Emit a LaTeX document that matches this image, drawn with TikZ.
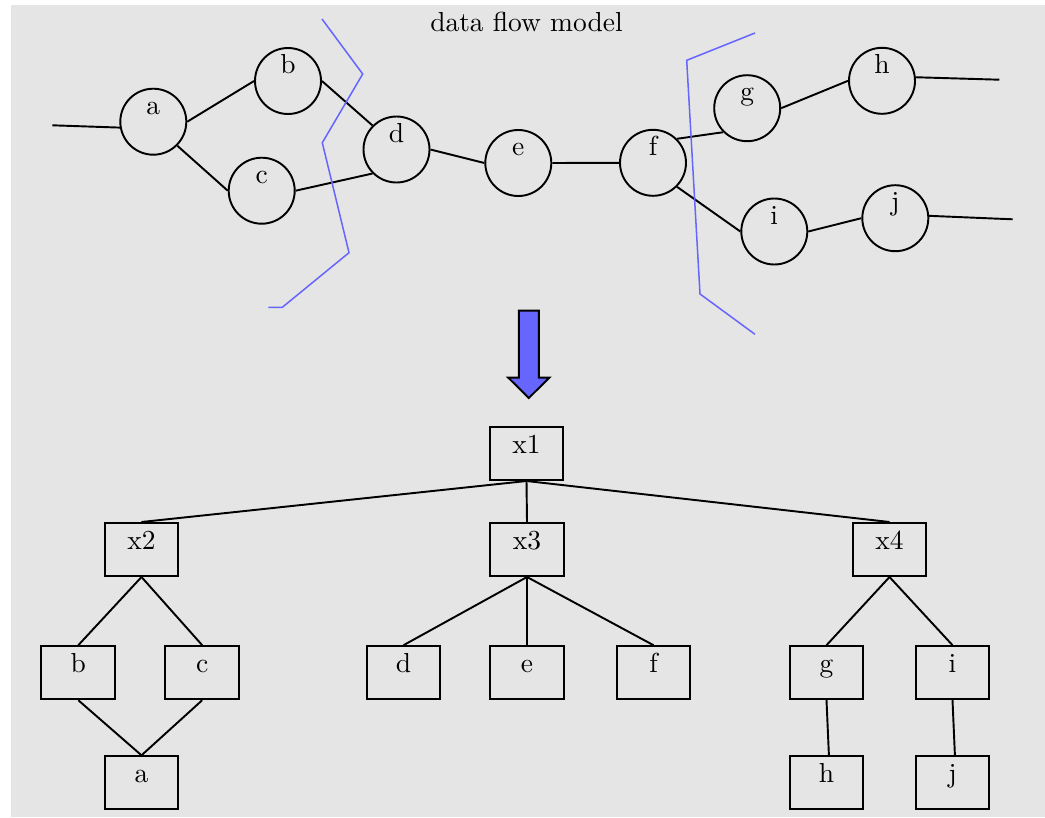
\documentclass[tikz,border=0pt]{standalone}
\usetikzlibrary{positioning}
\begin{document}
\begin{tikzpicture}[x=0.36364pt,y=-0.36364pt,
  every path/.style={line width=0.7pt},
  proc/.style={circle,draw,inner sep=0pt,minimum size=24pt,
    text height=4pt,text depth=9.45pt},
  blk/.style={rectangle,draw,inner sep=0pt,minimum width=26.8pt,minimum height=19.3pt,
    text height=5pt,text depth=5pt},
  cut/.style={draw=blue!60,line width=0.55pt},
  link/.style={draw=black,line width=0.7pt}]
% canvas
\useasboundingbox (0,0) rectangle (1045,817);
\fill[black!10] (11,5) rectangle (1045,817);

\node[anchor=base] (title) at (526.5,31.5) {data flow model};

% data flow graph
\node[proc] (a) at (153.3,121.7) {a};
\node[proc] (b) at (288,81) {b};
\node[proc] (c) at (261.7,190.7) {c};
\node[proc] (d) at (396.5,149.5) {d};
\node[proc] (e) at (518.3,163) {e};
\node[proc] (f) at (653,162.8) {f};
\node[proc] (g) at (747.2,108.2) {g};
\node[proc] (h) at (882,80.8) {h};
\node[proc] (i) at (774.3,231.5) {i};
\node[proc] (j) at (895.3,218.2) {j};
\coordinate (src) at (52.3,125.3);
\coordinate (snkh) at (999.3,79.7);
\coordinate (snkj) at (1012.7,219.3);

\draw[link] (src) -- (a.190);
\draw[link] (a.east) -- (b.west);
\draw[link] (a.south east) -- (c.west);
\draw[link] (b.east) -- (d.north west);
\draw[link] (c.east) -- (d.south west);
\draw[link] (d.east) -- (e.west);
\draw[link] (e.east) -- (f.west);
\draw[link] (f.north east) -- (g.south west);
\draw[link] (g.east) -- (h.west);
\draw[link] (f.south east) -- (i.west);
\draw[link] (i.east) -- (j.west);
\draw[link] (h.6) -- (snkh);
\draw[link] (j.4) -- (snkj);

% partition cuts
\draw[cut] (322,19) -- (362.7,74) -- (322.3,142.7) -- (349,252.7) -- (282.3,307.3) -- (268.3,307.3);
\draw[cut] (755,33) -- (686.7,60.3) -- (700,294) -- (755,334.3);

% transformation arrow
\filldraw[fill=blue!60,draw=black] (518.8,310.7) -- (538.8,310.7) -- (538.8,377.7) -- (549.3,377.7)
  -- (528.8,398) -- (508.3,377.7) -- (518.8,377.7) -- cycle;

% hierarchy
\node[blk] (x1) at (526.5,453.5) {x1};
\node[blk] (x2) at (141.5,549.5) {x2};
\node[blk] (x3) at (527,549.5) {x3};
\node[blk] (x4) at (889.5,549.5) {x4};
\node[blk] (tb) at (78.3,672.7) {b};
\node[blk] (tc) at (202.2,672.7) {c};
\node[blk] (ta) at (141.5,782.8) {a};
\node[blk] (td) at (403.5,672.7) {d};
\node[blk] (te) at (527,672.7) {e};
\node[blk] (tf) at (653.5,672.7) {f};
\node[blk] (tg) at (826.5,672.7) {g};
\node[blk] (ti) at (952.5,672.7) {i};
\node[blk] (th) at (826.5,782.8) {h};
\node[blk] (tj) at (952.5,782.8) {j};

\draw[link] (x1.south) -- (x2.north);
\draw[link] (x1.south) -- (x3.north);
\draw[link] (x1.south) -- (x4.north);
\draw[link] (x2.south) -- (tb.north);
\draw[link] (x2.south) -- (tc.north);
\draw[link] (tb.south) -- (ta.north);
\draw[link] (tc.south) -- (ta.north);
\draw[link] (x3.south) -- (td.north);
\draw[link] (x3.south) -- (te.north);
\draw[link] (x3.south) -- (tf.north);
\draw[link] (x4.south) -- (tg.north);
\draw[link] (x4.south) -- (ti.north);
\draw[link] (tg.south) -- (th.85);
\draw[link] (ti.south) -- (tj.85);
\end{tikzpicture}
\end{document}
